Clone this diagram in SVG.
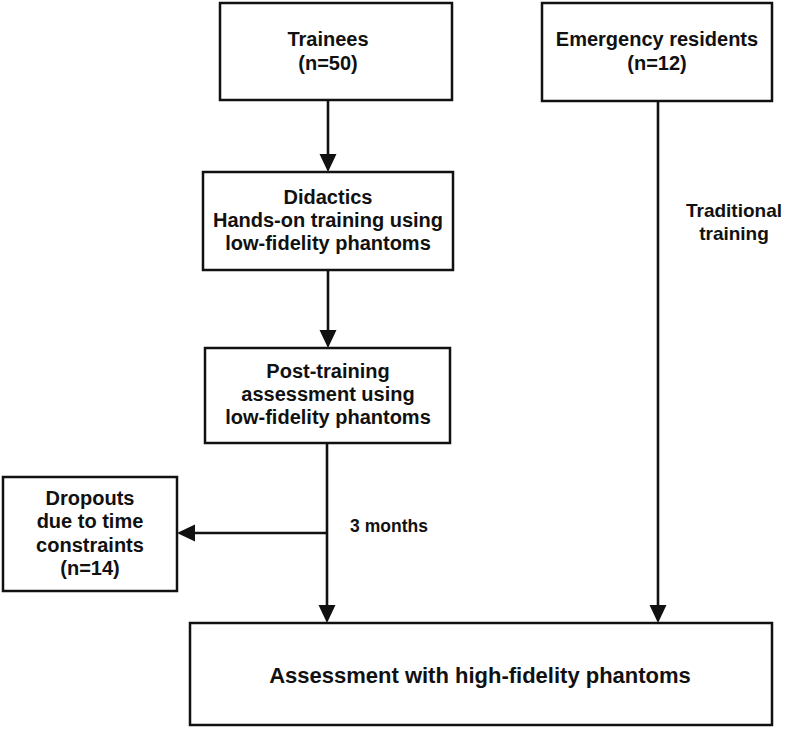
<svg xmlns="http://www.w3.org/2000/svg" width="786" height="730" viewBox="0 0 786 730">
<defs>
<style>
.box{fill:#fff;stroke:#111;stroke-width:2.5}
.t{font-family:"Liberation Sans",Arial,sans-serif;font-weight:bold;font-size:20px;fill:#111;text-anchor:middle}
.lbl{font-family:"Liberation Sans",Arial,sans-serif;font-weight:bold;fill:#111;text-anchor:middle}
.c{fill:none;stroke:#111;stroke-width:2.6}
</style>
<marker id="ah" viewBox="0 0 18 18" refX="14" refY="9" markerWidth="18" markerHeight="18" orient="auto" markerUnits="userSpaceOnUse">
<path d="M0,0.5 L18,9 L0,17.5 z" fill="#111"/>
</marker>
</defs>
<rect width="786" height="730" fill="#fff"/>
<g id="connectors">
<line class="c" x1="328" y1="100" x2="328" y2="168" marker-end="url(#ah)"/>
<line class="c" x1="328" y1="270" x2="328" y2="344" marker-end="url(#ah)"/>
<line class="c" x1="327" y1="443" x2="327" y2="619" marker-end="url(#ah)"/>
<line class="c" x1="327" y1="533" x2="181" y2="533" marker-end="url(#ah)"/>
<line class="c" x1="658" y1="101" x2="658" y2="619" marker-end="url(#ah)"/>
</g>
<g id="trainees">
<rect class="box" x="220" y="3" width="232" height="97"/>
<text class="t" x="328" y="46">Trainees</text>
<text class="t" x="328" y="70">(n=50)</text>
</g>
<g id="emergency">
<rect class="box" x="542" y="3" width="230" height="98"/>
<text class="t" x="657" y="46">Emergency residents</text>
<text class="t" x="657" y="70">(n=12)</text>
</g>
<g id="didactics">
<rect class="box" x="203" y="172" width="250" height="98"/>
<text class="t" x="328" y="204">Didactics</text>
<text class="t" x="328" y="227">Hands-on training using</text>
<text class="t" x="328" y="250">low-fidelity phantoms</text>
</g>
<g id="post-training">
<rect class="box" x="205" y="348" width="245" height="95"/>
<text class="t" x="328" y="378">Post-training</text>
<text class="t" x="328" y="401">assessment using</text>
<text class="t" x="328" y="424">low-fidelity phantoms</text>
</g>
<g id="dropouts">
<rect class="box" x="3" y="477" width="174" height="114"/>
<text class="t" x="90" y="505">Dropouts</text>
<text class="t" x="90" y="528">due to time</text>
<text class="t" x="90" y="552">constraints</text>
<text class="t" x="90" y="575">(n=14)</text>
</g>
<g id="assessment">
<rect class="box" x="190" y="623" width="582" height="102"/>
<text class="lbl" x="480" y="683" font-size="22">Assessment with high-fidelity phantoms</text>
</g>
<g id="labels">
<text class="lbl" x="389" y="532" font-size="17.5">3 months</text>
<text class="lbl" x="734" y="217" font-size="19">Traditional</text>
<text class="lbl" x="734" y="240" font-size="19">training</text>
</g>
</svg>
